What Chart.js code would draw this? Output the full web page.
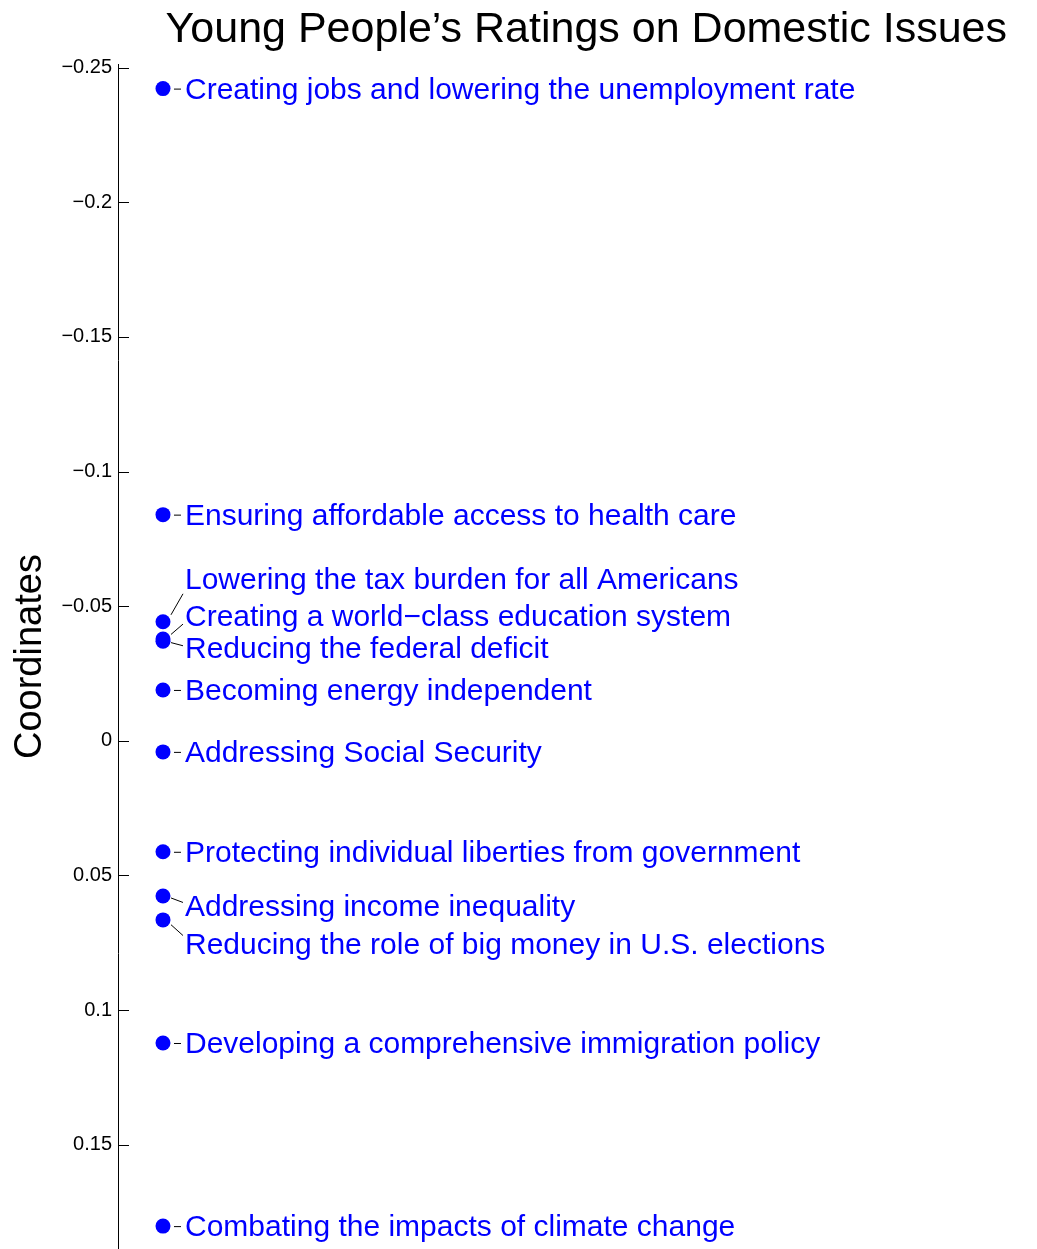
<!DOCTYPE html>
<html>
<head>
<meta charset="utf-8">
<script src="https://cdn.jsdelivr.net/npm/chart.js@4.4.0/dist/chart.umd.min.js"></script>
<style>
  html, body { margin: 0; padding: 0; background: #fff; }
  #wrap { width: 1037px; height: 1249px; }
</style>
</head>
<body>
<div id="wrap"><canvas id="issues"></canvas></div>
<script>
/* Young people's ratings on domestic issues - 1D coordinate plot */
const ISSUES = [
  'Creating jobs and lowering the unemployment rate',
  'Ensuring affordable access to health care',
  'Lowering the tax burden for all Americans',
  'Creating a world\u2212class education system',
  'Reducing the federal deficit',
  'Becoming energy independent',
  'Addressing Social Security',
  'Protecting individual liberties from government',
  'Addressing income inequality',
  'Reducing the role of big money in U.S. elections',
  'Developing a comprehensive immigration policy',
  'Combating the impacts of climate change',
];

const COORDS = [
  -0.2422, -0.0840, -0.0442, -0.0378, -0.0370, -0.0189,
  0.0041, 0.0412, 0.0576, 0.0665, 0.1122, 0.1802,
];

const TICK_VALUES = [-0.25, -0.2, -0.15, -0.1, -0.05, 0, 0.05, 0.1, 0.15];
const TICK_LABELS = ['\u22120.25', '\u22120.2', '\u22120.15', '\u22120.1', '\u22120.05', '0', '0.05', '0.1', '0.15'];

const FONT = "'Liberation Sans', Arial, sans-serif";
const BLUE = '#0000ff';

// label nudges (px) to keep overlapping names apart, same order as ISSUES
const LABEL_SHIFT = [0, 0, -43, -23, 7, 0, 0, 0, 10, 24, 0, 0];

const pointLabels = {
  id: 'pointLabels',
  afterDatasetsDraw(chart) {
    const { ctx } = chart;
    const meta = chart.getDatasetMeta(0);
    ctx.save();
    ctx.font = `30px ${FONT}`;
    ctx.fillStyle = BLUE;
    ctx.textBaseline = 'middle';
    ctx.textAlign = 'left';
    ctx.strokeStyle = '#000';
    ctx.lineWidth = 1;
    meta.data.forEach((pt, i) => {
      const dy = LABEL_SHIFT[i];
      const ly = pt.y + dy;
      const tx = pt.x + 22;
      ctx.beginPath();
      if (Math.abs(dy) < 3) {
        ctx.moveTo(pt.x + 11, pt.y + 0.5);
        ctx.lineTo(pt.x + 18, pt.y + 0.5);
      } else {
        const s = Math.sign(dy);
        ctx.moveTo(pt.x + 8, pt.y + s * Math.min(Math.abs(dy) * 0.2, 7));
        ctx.lineTo(pt.x + 20, ly - s * Math.min(Math.abs(dy) * 0.35, 15));
      }
      ctx.stroke();
      // text sits a touch low of the centre line in the original
      ctx.fillText(ISSUES[i], tx, ly + 2);
    });
    ctx.restore();
  },
  afterDraw(chart) {
    // tick marks point inward, like the original
    const { ctx } = chart;
    const y = chart.scales.y;
    ctx.save();
    ctx.strokeStyle = '#000';
    ctx.lineWidth = 1;
    y.ticks.forEach(t => {
      const py = Math.round(y.getPixelForValue(t.value)) + 0.5;
      ctx.beginPath();
      ctx.moveTo(y.right, py);
      ctx.lineTo(y.right + 11, py);
      ctx.stroke();
    });
    ctx.restore();
  },
};

new Chart(document.getElementById('issues'), {
  type: 'scatter',
  data: {
    datasets: [{
      data: COORDS.map(v => ({ x: 0, y: v })),
      backgroundColor: BLUE,
      borderColor: BLUE,
      borderWidth: 0,
      pointRadius: 7.5,
      pointHoverRadius: 7.5,
      clip: false,
    }],
  },
  options: {
    responsive: true,
    maintainAspectRatio: false,
    animation: false,
    events: [],
    layout: { autoPadding: false, padding: { left: 0, right: 30, top: 0, bottom: 0 } },
    plugins: {
      legend: { display: false },
      tooltip: { enabled: false },
      title: {
        display: true,
        text: 'Young People\u2019s Ratings on Domestic Issues',
        align: 'end',
        color: '#000',
        font: { family: FONT, size: 43, weight: 'normal' },
        padding: { top: 4, bottom: 8.5 },
      },
    },
    scales: {
      x: { display: false, min: -0.0533, max: 1 },
      y: {
        reverse: true,
        min: -0.2513,
        max: 0.1887,
        afterBuildTicks: scale => {
          scale.ticks = TICK_VALUES.map(v => ({ value: v }));
        },
        afterFit: scale => {
          scale.width = 118;
          scale.paddingTop = 0;
          scale.paddingBottom = 0;
        },
        ticks: {
          color: '#000',
          padding: 6,
          font: { family: FONT, size: 20 },
          callback: v => TICK_LABELS[TICK_VALUES.indexOf(v)] ?? '',
        },
        grid: { drawOnChartArea: false, drawTicks: false },
        border: { display: true, color: '#000', width: 1 },
        title: {
          display: true,
          text: 'Coordinates',
          color: '#000',
          font: { family: FONT, size: 38 },
          padding: { top: 8, bottom: 0 },
        },
      },
    },
  },
  plugins: [pointLabels],
});
</script>
</body>
</html>
